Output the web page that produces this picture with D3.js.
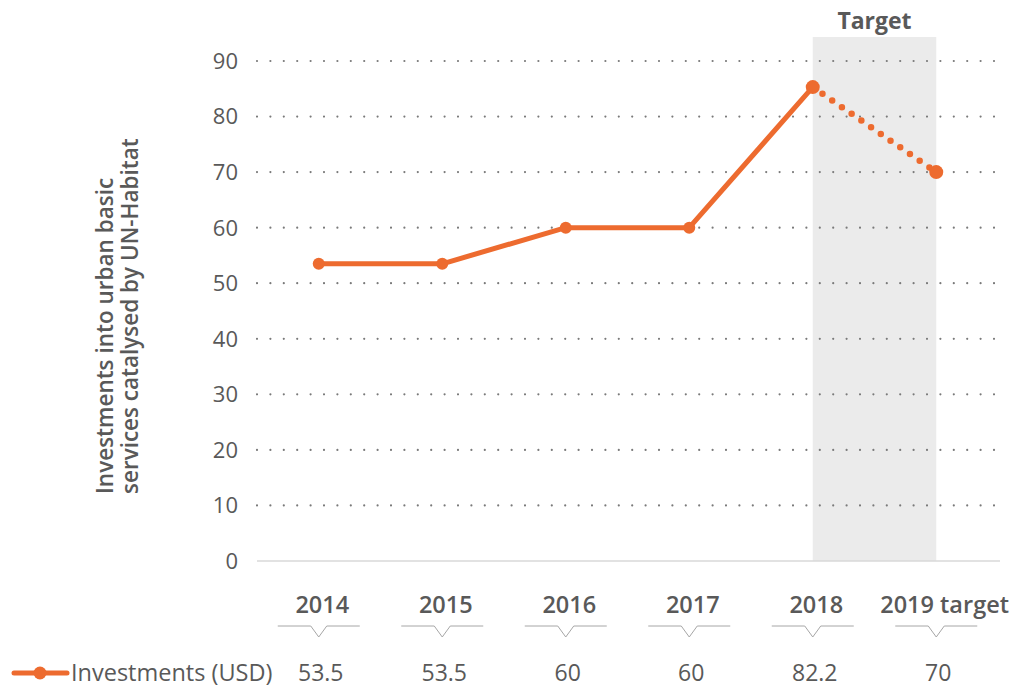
<!DOCTYPE html>
<html>
<head>
<meta charset="utf-8">
<script src="https://cdn.jsdelivr.net/npm/d3@7"></script>
<style>
  body { margin: 0; background: #fff; }
  text { font-family: "Open Sans", "Noto Sans", sans-serif; fill: #595959; }
</style>
</head>
<body>
<div id="chart"></div>
<script>
// data
const years = ["2014", "2015", "2016", "2017", "2018", "2019 target"]
const investments = [53.5, 53.5, 60, 60, 85.3, 70]   // plotted position
const tableLabels = ["53.5", "53.5", "60", "60", "82.2", "70"]
const yTicks = [0, 10, 20, 30, 40, 50, 60, 70, 80, 90]
const seriesName = "Investments (USD)"
const targetFrom = "2018", targetTo = "2019 target"

const ctx = { width: 1014, height: 685, orange: "#ED6B2F" }

const svg = d3.select("#chart").append("svg")
  .attr("width", ctx.width).attr("height", ctx.height)

const x = d3.scaleBand().domain(years).range([257, 998])
const cx = d => x(d) + x.bandwidth() / 2
const y = d3.scaleLinear().domain([0, 90]).range([561, 61])

// target shading
svg.append("rect")
  .attr("x", cx(targetFrom)).attr("width", cx(targetTo) - cx(targetFrom))
  .attr("y", 37).attr("height", y(0) - 37)
  .attr("fill", "#ebebeb")

svg.append("text")
  .attr("x", (cx(targetFrom) + cx(targetTo)) / 2).attr("y", 29)
  .attr("text-anchor", "middle")
  .style("font-size", "23px").style("font-weight", "bold")
  .text("Target")

// grid lines
svg.selectAll(".grid").data(yTicks.filter(d => d > 0)).enter().append("line")
  .attr("x1", 257).attr("x2", 1000)
  .attr("y1", d => y(d)).attr("y2", d => y(d))
  .attr("stroke", "#7a7a7a").attr("stroke-width", 2.2)
  .attr("stroke-linecap", "round").attr("stroke-dasharray", "0 13.4")

svg.append("line")
  .attr("x1", 257).attr("x2", 1000)
  .attr("y1", y(0)).attr("y2", y(0))
  .attr("stroke", "#d9d9d9").attr("stroke-width", 1.5)

svg.selectAll(".ytick").data(yTicks).enter().append("text")
  .attr("x", 238).attr("y", d => y(d)).attr("dy", "0.36em")
  .attr("text-anchor", "end")
  .style("font-size", "22px")
  .text(d => d)

// y axis title
const title = svg.append("text")
  .attr("transform", "translate(113,494) rotate(-90)")
  .attr("text-anchor", "start")
  .style("font-size", "22.5px").style("font-weight", "600")
title.append("tspan").attr("x", 0).attr("dy", 0).text("Investments into urban basic")
title.append("tspan").attr("x", 0).attr("dy", 25).text("services catalysed by UN-Habitat")

// line
const pts = years.map((d, i) => [cx(d), y(investments[i])])
const line = d3.line()
svg.append("path")
  .attr("d", line(pts.slice(0, 5)))
  .attr("fill", "none").attr("stroke", ctx.orange)
  .attr("stroke-width", 5).attr("stroke-linejoin", "round")
svg.append("path")
  .attr("d", line(pts.slice(4)))
  .attr("fill", "none").attr("stroke", ctx.orange)
  .attr("stroke-width", 6.5).attr("stroke-linecap", "round")
  .attr("stroke-dasharray", "0 11.8")
svg.selectAll(".pt").data(pts).enter().append("circle")
  .attr("cx", d => d[0]).attr("cy", d => d[1])
  .attr("r", (d, i) => i >= 4 ? 7 : 6)
  .attr("fill", ctx.orange)

// table below
svg.selectAll(".year").data(years).enter().append("text")
  .attr("x", d => cx(d) + 3.5).attr("y", 613)
  .attr("text-anchor", "middle")
  .style("font-size", "23.5px").style("font-weight", "600")
  .text(d => d)
  .each(function (d) {
    // the last label is pushed to the right edge in the original
    const w = this.getComputedTextLength()
    if (cx(d) + w / 2 > 998) d3.select(this).attr("x", 1009 - w / 2)
  })

svg.selectAll(".chev").data(years).enter().append("path")
  .attr("d", d => {
    const c = cx(d)
    return `M${c - 41},626 L${c - 8},626 L${c},637 L${c + 8},626 L${c + 41},626`
  })
  .attr("fill", "none").attr("stroke", "#a6a6a6").attr("stroke-width", 1)

svg.selectAll(".val").data(tableLabels).enter().append("text")
  .attr("x", (d, i) => cx(years[i]) + 2).attr("y", 681)
  .attr("text-anchor", "middle")
  .style("font-size", "23px")
  .text(d => d)

// legend
svg.append("line")
  .attr("x1", 14).attr("x2", 67).attr("y1", 673).attr("y2", 673)
  .attr("stroke", ctx.orange).attr("stroke-width", 5).attr("stroke-linecap", "round")
svg.append("circle").attr("cx", 40).attr("cy", 673).attr("r", 6.5).attr("fill", ctx.orange)
svg.append("text")
  .attr("x", 71).attr("y", 681)
  .style("font-size", "23.5px")
  .text(seriesName)
</script>
</body>
</html>
